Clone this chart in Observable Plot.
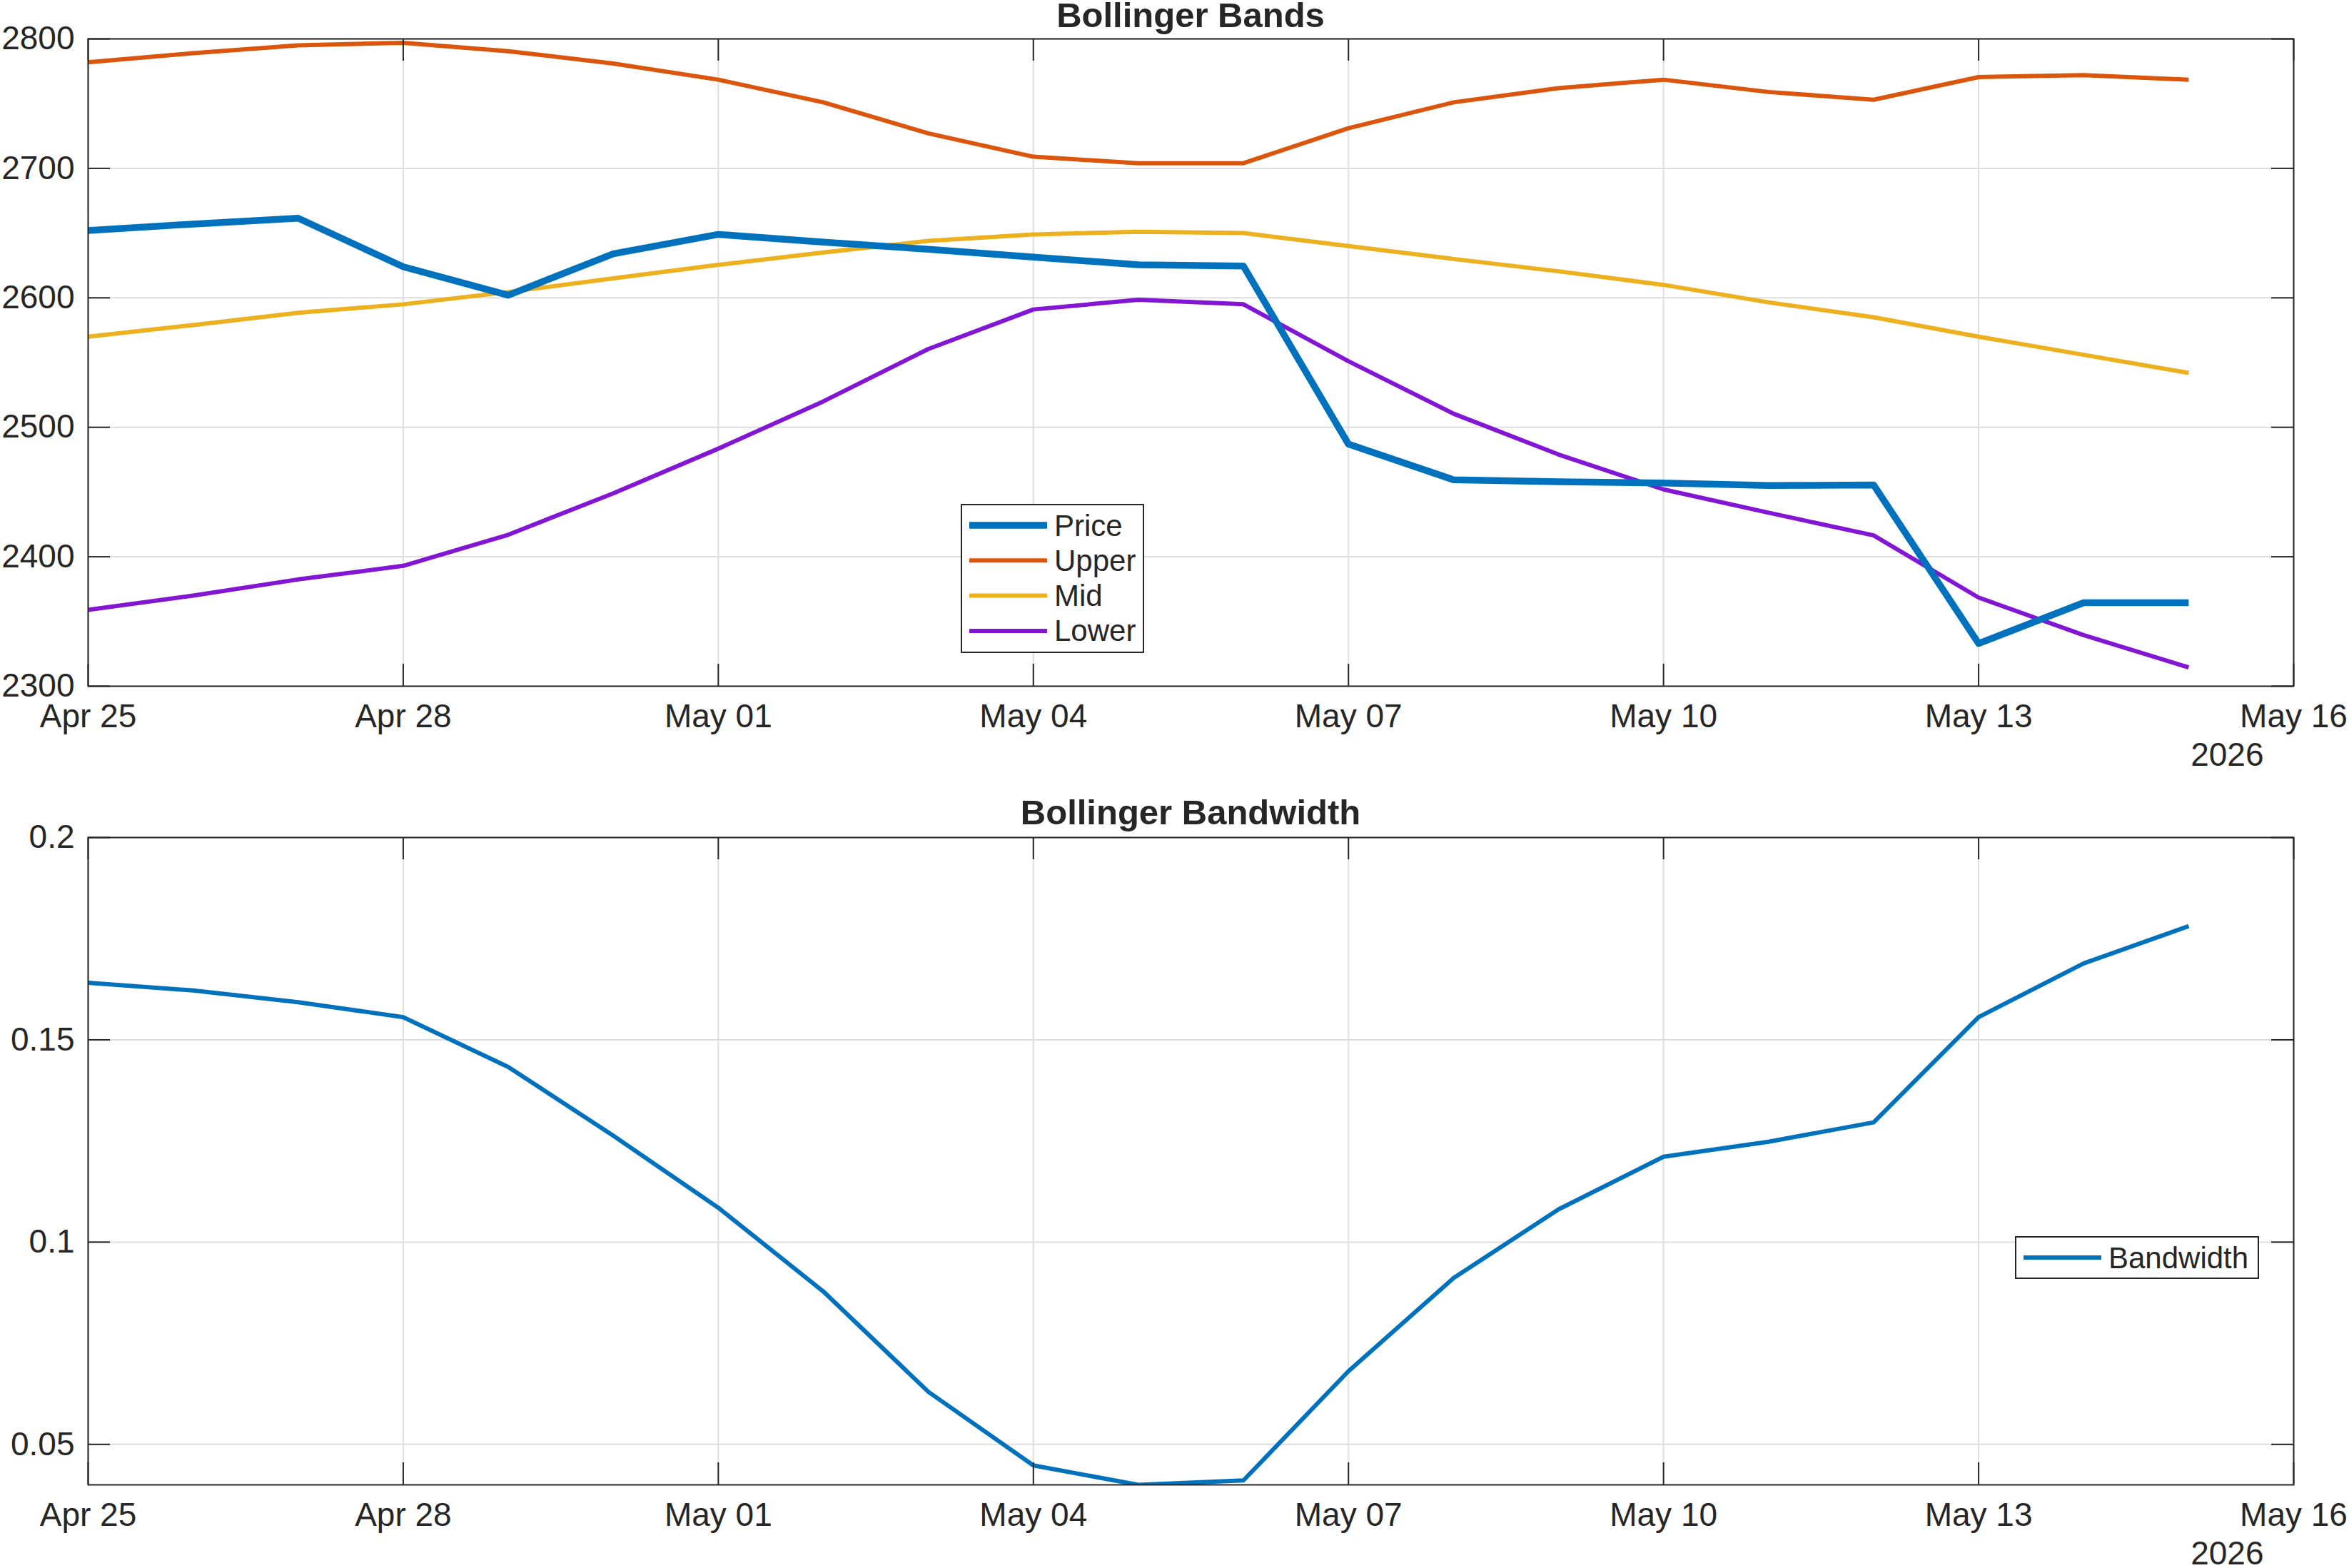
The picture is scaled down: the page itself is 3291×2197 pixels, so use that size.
<!DOCTYPE html>
<html>
<head>
<meta charset="utf-8">
<script src="https://cdn.jsdelivr.net/npm/d3@7"></script>
<script src="https://cdn.jsdelivr.net/npm/@observablehq/plot@0.6"></script>
<style>
  html, body { margin: 0; padding: 0; background: #fff; }
  #page { position: relative; width: 3291px; height: 2197px; overflow: hidden; background: #fff; }
  #page > svg, #page > figure { position: absolute; left: 0; margin: 0; }
</style>
</head>
<body>
<div id="page"></div>
<script>
// ---- data ----------------------------------------------------------------
const dates = [
  "2026-04-25", "2026-04-26", "2026-04-27", "2026-04-28", "2026-04-29", "2026-04-30",
  "2026-05-01", "2026-05-02", "2026-05-03", "2026-05-04", "2026-05-05", "2026-05-06",
  "2026-05-07", "2026-05-08", "2026-05-09", "2026-05-10", "2026-05-11", "2026-05-12",
  "2026-05-13", "2026-05-14", "2026-05-15"
];
const price = [2652, 2657, 2661.5, 2624, 2602, 2634, 2649, 2643, 2637.5, 2631.5, 2625.5, 2624.5,
               2487, 2459.5, 2458, 2457, 2455, 2455.5, 2333, 2364.5, 2364.5];
const upper = [2782, 2789, 2795, 2797, 2790.5, 2781, 2768.5, 2751, 2727, 2709, 2704, 2704,
               2731, 2751, 2762, 2768.5, 2759, 2753, 2770.5, 2772, 2768.5];
const mid   = [2570, 2579, 2588.5, 2595, 2604.5, 2615, 2625.5, 2635, 2644, 2649, 2651, 2650,
               2640, 2630, 2620.5, 2610, 2596.5, 2585, 2570, 2556, 2542];
const lower = [2359, 2370, 2382.5, 2393, 2417, 2449, 2483.5, 2520, 2560.5, 2591, 2598.5, 2595,
               2551, 2510.5, 2479, 2452, 2434, 2416.5, 2368.5, 2339.5, 2314.5];
const bandwidth = [0.1641, 0.1622, 0.1593, 0.1556, 0.1433, 0.1263, 0.1085, 0.0878, 0.0630, 0.0448,
                   0.0400, 0.0411, 0.0681, 0.0911, 0.1081, 0.1211, 0.1248, 0.1296, 0.1556, 0.1689, 0.1781];

const dateTicks = ["2026-04-25", "2026-04-28", "2026-05-01", "2026-05-04",
                   "2026-05-07", "2026-05-10", "2026-05-13", "2026-05-16"];
const priceTicks = [2300, 2400, 2500, 2600, 2700, 2800];
const bwTicks = [0.05, 0.1, 0.15, 0.2];
const yearLabel = "2026";

const bandSeries = ["Price", "Upper", "Mid", "Lower"];
const bandColors = ["#0072BD", "#DB560C", "#EDB120", "#8316D4"];
const bandWidths = [9.5, 6, 6, 6];

// ---- layout --------------------------------------------------------------
const W = 3291;
const FONT = '"Liberation Sans", Arial, Helvetica, sans-serif';
const INK = "#262626";
const GRID = "#dedede";
const TICK = 31;
const frameLeft = 123, frameRight = 3213;
const frameW = frameRight - frameLeft;

const parse = d3.utcParse("%Y-%m-%d");
const xTicks = dateTicks.map(parse);
const rows = dates.map((d, i) => ({
  date: parse(d), price: price[i], upper: upper[i], mid: mid[i], lower: lower[i], bw: bandwidth[i]
}));

// one boxed axes: grid, data lines, frame with inward ticks on all four sides
function panel({top, height, marginTop, marginBottom, yDomain, yTicks, lines}) {
  const frameH = height - marginTop - marginBottom;
  const svg = Plot.plot({
    width: W, height,
    marginLeft: frameLeft, marginRight: W - frameRight, marginTop, marginBottom,
    style: {fontFamily: FONT, fontSize: "46px", color: INK, background: "transparent", overflow: "visible"},
    x: {type: "utc", domain: [xTicks[0], xTicks[xTicks.length - 1]]},
    y: {domain: yDomain},
    marks: [
      Plot.gridX(xTicks, {stroke: GRID, strokeOpacity: 1, strokeWidth: 2}),
      Plot.gridY(yTicks, {stroke: GRID, strokeOpacity: 1, strokeWidth: 2}),
      ...lines.map(l => Plot.line(rows, {
        x: "date", y: l.key, stroke: l.color, strokeWidth: l.width, clip: "frame",
        strokeLinejoin: "round", strokeLinecap: "butt"
      })),
      Plot.frame({stroke: INK, strokeWidth: 2}),
      Plot.ruleX(xTicks, {stroke: INK, strokeWidth: 2, insetTop: frameH - TICK}),
      Plot.ruleX(xTicks, {stroke: INK, strokeWidth: 2, insetBottom: frameH - TICK}),
      Plot.ruleY(yTicks, {stroke: INK, strokeWidth: 2, insetRight: frameW - TICK}),
      Plot.ruleY(yTicks, {stroke: INK, strokeWidth: 2, insetLeft: frameW - TICK}),
      Plot.axisX(xTicks, {tickSize: 0, tickPadding: 25, tickFormat: d3.utcFormat("%b %d"),
                          label: null, fontSize: 46, fill: INK}),
      Plot.axisY(yTicks, {tickSize: 0, tickPadding: 19, tickFormat: d => String(d),
                          label: null, fontSize: 46, fill: INK}),
      Plot.text([yearLabel], {frameAnchor: "bottom-right", dx: -42, dy: 97,
                              textAnchor: "end", lineAnchor: "middle", fontSize: 46, fill: INK})
    ]
  });
  svg.style.top = top + "px";
  return svg;
}

const page = document.getElementById("page");

page.appendChild(panel({
  top: 0, height: 1100, marginTop: 54, marginBottom: 139,
  yDomain: [priceTicks[0], priceTicks[priceTicks.length - 1]], yTicks: priceTicks,
  lines: [
    {key: "lower", color: bandColors[3], width: bandWidths[3]},
    {key: "mid", color: bandColors[2], width: bandWidths[2]},
    {key: "upper", color: bandColors[1], width: bandWidths[1]},
    {key: "price", color: bandColors[0], width: bandWidths[0]}
  ]
}));

page.appendChild(panel({
  top: 1100, height: 1097, marginTop: 73, marginBottom: 117,
  yDomain: [d3.min(bandwidth), bwTicks[bwTicks.length - 1]], yTicks: bwTicks,
  lines: [{key: "bw", color: bandColors[0], width: 6}]
}));

// ---- titles and legends ---------------------------------------------------
const overlay = d3.select(page).append("svg")
  .attr("width", W).attr("height", 2197)
  .style("top", "0px")
  .style("font-family", FONT)
  .style("pointer-events", "none");

const cx = (frameLeft + frameRight) / 2;
overlay.append("text").attr("x", cx).attr("y", 38).attr("text-anchor", "middle")
  .attr("font-weight", "bold").attr("font-size", 49).attr("fill", INK).text("Bollinger Bands");
overlay.append("text").attr("x", cx).attr("y", 1155).attr("text-anchor", "middle")
  .attr("font-weight", "bold").attr("font-size", 49).attr("fill", INK).text("Bollinger Bandwidth");

function legend(g, {x, y, w, h, items}) {
  g.append("rect").attr("x", x).attr("y", y).attr("width", w).attr("height", h)
    .attr("fill", "#fff").attr("stroke", INK).attr("stroke-width", 2);
  items.forEach(it => {
    g.append("line").attr("x1", x + 11).attr("x2", x + 120).attr("y1", it.cy).attr("y2", it.cy)
      .attr("stroke", it.color).attr("stroke-width", it.width);
    g.append("text").attr("x", x + 130).attr("y", it.cy + 14.5).attr("font-size", 42)
      .attr("fill", INK).text(it.label);
  });
}

legend(overlay, {
  x: 1347, y: 707, w: 255, h: 207,
  items: bandSeries.map((s, i) => ({label: s, color: bandColors[i], width: bandWidths[i], cy: 736 + i * 49.3}))
});
legend(overlay, {
  x: 2824, y: 1733, w: 340, h: 58,
  items: [{label: "Bandwidth", color: bandColors[0], width: 6, cy: 1762}]
});
</script>
</body>
</html>
